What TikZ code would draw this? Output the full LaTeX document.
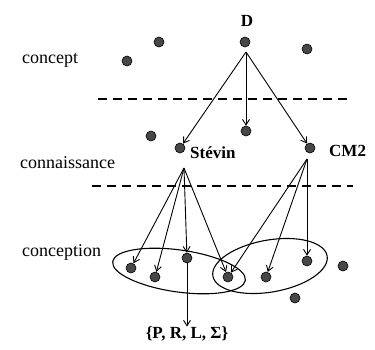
\documentclass[tikz,border=0pt]{standalone}
\usepackage{fontspec}
\setmainfont{Liberation Serif}
\usetikzlibrary{arrows.meta}
\begin{document}
\begin{tikzpicture}[x=1pt,y=-1pt,
  dot/.style={circle,draw=black,fill=black!72,line width=0.6pt,minimum size=10pt,inner sep=0pt},
  lvl/.style={font=\fontsize{18}{20}\selectfont,inner sep=0pt},
  bname/.style={font=\fontsize{17}{19}\selectfont\bfseries,inner sep=0pt},
  arr/.style={line width=0.9pt,-{Straight Barb[length=5.5pt,width=7pt,line width=0.9pt]}},
  sep/.style={line width=1.1pt,dash pattern=on 9pt off 6pt},
  grp/.style={line width=1.1pt}]
\useasboundingbox (0,0) rectangle (375,349);
% level labels
\node[lvl,anchor=base west] (lconcept) at (22,63) {concept};
\node[lvl,anchor=base west] (lconn) at (20,168) {connaissance};
\node[lvl,anchor=base west] (lconc) at (22,256) {conception};
% separators
\coordinate (s1a) at (98,99); \coordinate (s1b) at (348,99);
\coordinate (s2a) at (92,186); \coordinate (s2b) at (353,186);
\draw[sep] (s1a) -- (s1b);
\draw[sep] (s2a) -- (s2b);
% concept dots
\node[dot] (d) at (245,42) {};
\node[dot] (c1) at (159,42) {};
\node[dot] (c2) at (127,61) {};
\node[dot] (c3) at (307,49) {};
\node[bname] (dl) at (247,21) {D};
% connaissance dots
\node[dot] (k0) at (246,131) {};
\node[dot] (k1) at (151,136) {};
\node[dot] (st) at (180,148) {};
\node[dot] (cm) at (310,148) {};
\node[bname,anchor=base west] (stl) at (190,158) {Stévin};
\node[bname,anchor=base west] (cml) at (329,156) {CM2};
% conception dots
\node[dot] (p1) at (131,268) {};
\node[dot] (p2) at (155,277) {};
\node[dot] (p3) at (187,258) {};
\node[dot] (p4) at (228,277) {};
\node[dot] (p5) at (266,277) {};
\node[dot] (p6) at (307,261) {};
\node[dot] (p7) at (343,266) {};
\node[dot] (p8) at (295,298) {};
% groups
\draw[grp,rotate around={-8:(179,271)}] (179,271) ellipse [x radius=67, y radius=21];
\draw[grp,rotate around={10:(270,266)}] (270,266) ellipse [x radius=58, y radius=26];
% result
\node[bname] (res) at (187,334) {\{P, R, L, Σ\}};
% arrows from D
\coordinate (da) at (246,52);
\draw[arr] (da) -- (st);
\draw[arr] (da) -- (k0);
\draw[arr] (da) -- (cm);
% arrows from Stévin
\coordinate (sa) at (184,168);
\draw[arr] (sa) -- (p1);
\draw[arr] (sa) -- (p2);
\draw[arr] (sa) -- (p3);
\draw[arr] (sa) -- (p4);
\draw[arr] (p3) -- (res);
% arrows from CM2
\coordinate (ca) at (307,159);
\draw[arr] (ca) -- (p4);
\draw[arr] (ca) -- (p5);
\draw[arr] (ca) -- (p6);
\end{tikzpicture}
\end{document}
